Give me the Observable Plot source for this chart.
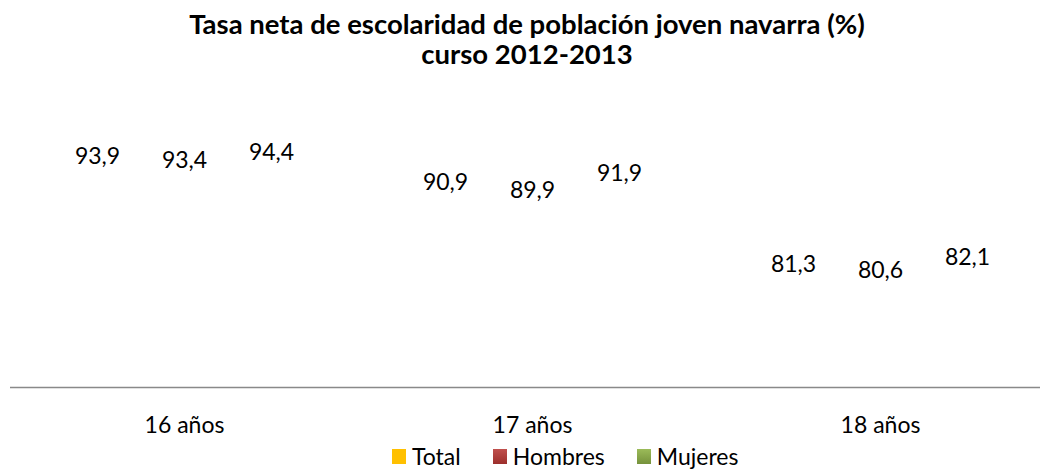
<!DOCTYPE html>
<html>
<head>
<meta charset="utf-8">
<script src="https://cdn.jsdelivr.net/npm/d3@7"></script>
<script src="https://cdn.jsdelivr.net/npm/@observablehq/plot@0.6"></script>
<style>
  html, body { margin: 0; padding: 0; background: #fff; }
  #wrap { position: relative; width: 1040px; height: 472px; overflow: hidden; font-family: Lato, "Open Sans", sans-serif; color: #000; }
  #title { position: absolute; left: 14px; top: 9px; width: 1026px; text-align: center; font-weight: bold; font-size: 27.5px; line-height: 30px; }
  #chart { position: absolute; left: 0; top: 90px; }
  #legend { position: absolute; left: 392px; top: 445px; display: flex; align-items: center; font-size: 23px; line-height: 23px; }
  .item { display: flex; align-items: center; margin-right: 32px; }
  .sw { width: 14px; height: 15px; margin-right: 6px; }
</style>
</head>
<body>
<div id="wrap">
  <div id="title">Tasa neta de escolaridad de población joven navarra (%)<br>curso 2012-2013</div>
  <div id="chart"></div>
  <div id="legend"></div>
</div>
<script>
const ages = ["16 años", "17 años", "18 años"];
const series = ["Total", "Hombres", "Mujeres"];
const total = [93.9, 90.9, 81.3];
const hombres = [93.4, 89.9, 80.6];
const mujeres = [94.4, 91.9, 82.1];
const colors = ["#FFC000", "#C0504D", "#9BBB59"];
const colorsDark = ["#FFC000", "#9C2F2C", "#76923C"];

const values = [total, hombres, mujeres];
const rows = [];
ages.forEach((age, i) => {
  series.forEach((s, j) => rows.push({age, serie: s, value: values[j][i]}));
});

const fmt = v => v.toFixed(1).replace(".", ",");

const chart = Plot.plot({
  width: 1040,
  height: 355,
  marginTop: 14,
  marginBottom: 58,
  marginLeft: 10,
  marginRight: -14,
  style: {fontFamily: "Lato, 'Open Sans', sans-serif", background: "transparent"},
  fx: {domain: ages, padding: 0, axis: null},
  x: {type: "point", domain: series, padding: 1, axis: null},
  y: {domain: [67, 100], axis: null},
  marks: [
    Plot.ruleY([67], {stroke: "#898989", strokeWidth: 1.6}),
    Plot.text(rows, {
      fx: "age", x: "serie", y: "value",
      text: d => fmt(d.value),
      fontSize: 23, fill: "#000", lineAnchor: "middle"
    }),
    Plot.text(ages, {
      fx: d => d, text: d => d,
      frameAnchor: "bottom", dy: 38,
      fontSize: 23, fill: "#000", lineAnchor: "middle"
    })
  ]
});
document.getElementById("chart").appendChild(chart);

const legend = document.getElementById("legend");
series.forEach((s, j) => {
  const item = document.createElement("div");
  item.className = "item";
  const sw = document.createElement("span");
  sw.className = "sw";
  sw.style.background = `linear-gradient(${colors[j]}, ${colorsDark[j]})`;
  const lab = document.createElement("span");
  lab.textContent = s;
  item.appendChild(sw);
  item.appendChild(lab);
  legend.appendChild(item);
});
</script>
</body>
</html>
